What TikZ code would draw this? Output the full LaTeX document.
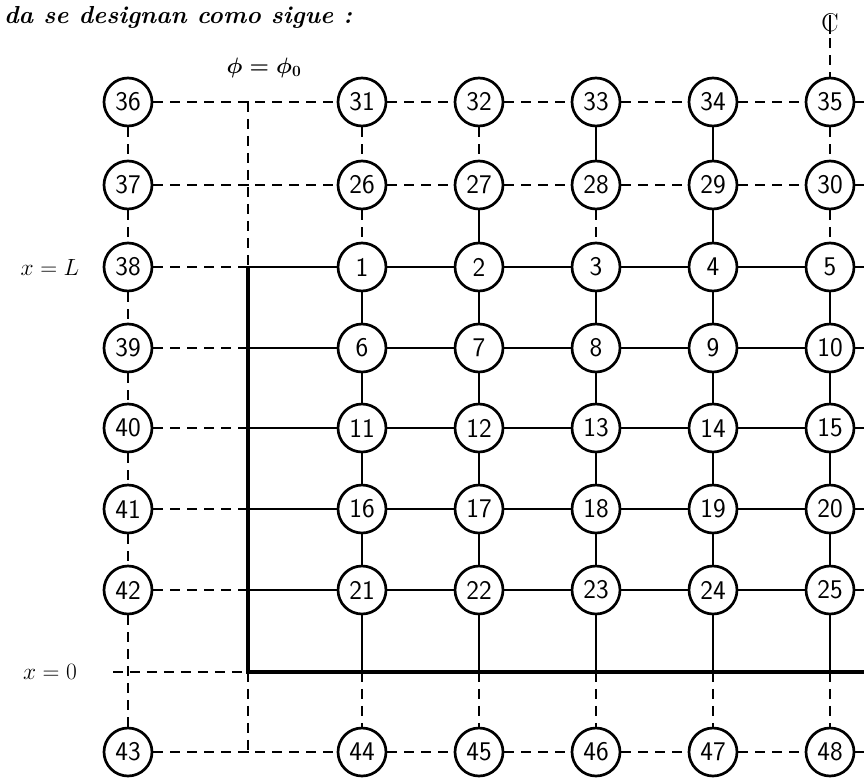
\RequirePackage{fix-cm}
\documentclass[tikz,border=0pt]{standalone}
\usepackage{amsmath, amssymb}
\usepackage{fontspec}
\usepackage{tikz}

\begin{document}
\begin{tikzpicture}[x=0.03cm, y=-0.03cm,
    nd/.style={circle, draw, line width=2.3pt, minimum size=1.44cm, inner sep=0pt,
      font=\fontsize{23}{24}\selectfont\sffamily},
    ln/.style={line width=1.9pt},
    dl/.style={line width=1.9pt, dash pattern=on 8.5pt off 6pt},
    wall/.style={line width=4.2pt}]
  \useasboundingbox (0,0) rectangle (864,783);

  % nodos interiores
  \foreach \r/\y in {0/267,1/348,2/428,3/509,4/590}
    \foreach \c/\x in {0/362,1/479,2/596,3/713,4/830}{
      \pgfmathtruncatemacro\k{5*\r+\c+1}
      \node[nd] (n\k) at (\x,\y) {\k};
    }
  % nodos ficticios
  \foreach \c/\x in {0/362,1/479,2/596,3/713,4/830}{
    \pgfmathtruncatemacro\a{26+\c}
    \pgfmathtruncatemacro\b{31+\c}
    \pgfmathtruncatemacro\d{44+\c}
    \node[nd] (n\a) at (\x,185) {\a};
    \node[nd] (n\b) at (\x,102) {\b};
    \node[nd] (n\d) at (\x,752) {\d};
    \coordinate (z\c) at (\x,672);
  }
  \foreach \k/\y in {36/102,37/185,38/267,39/348,40/428,41/509,42/590,43/752}{
    \node[nd] (n\k) at (128,\y) {\k};
    \coordinate (w\k) at (248,\y);
  }
  \foreach \k/\y in {35/102,30/185,5/267,10/348,15/428,20/509,25/590,48/752}
    \coordinate (r\k) at (864,\y);
  \coordinate (wz) at (248,672);
  \coordinate (zl) at (113,672);
  \coordinate (zr) at (864,672);

  % textos
  \node[anchor=west] (title) at (0,17) {\fontsize{21}{23}\selectfont\bfseries\itshape da se designan como sigue :};
  \node (phi) at (264,68) {\fontsize{19}{20}\selectfont$\boldsymbol{\phi=\phi_0}$};
  \node (xL) at (50,267) {\fontsize{20}{22}\selectfont$x=L$};
  \node (x0) at (50,672) {\fontsize{20}{22}\selectfont$x=0$};
  \node (cl) at (830,24) {\fontsize{22}{22}\selectfont\makebox[0pt]{C}\makebox[0pt]{\raisebox{-2pt}{\rule{1.6pt}{16pt}}}};

  % filas
  \draw[dl] (n36) -- (w36) -- (n31) -- (n32) -- (n33) -- (n34) -- (n35) -- (r35);
  \draw[dl] (n37) -- (w37) -- (n26) -- (n27) -- (n28) -- (n29) -- (n30) -- (r30);
  \draw[dl] (n43) -- (w43) -- (n44) -- (n45) -- (n46) -- (n47) -- (n48) -- (r48);
  \foreach \k/\a in {38/1,39/6,40/11,41/16,42/21}{
    \draw[dl] (n\k) -- (w\k);
    \draw[ln] (w\k) -- (n\a);
  }
  \foreach \a in {1,...,24}{
    \pgfmathtruncatemacro\b{\a+1}
    \pgfmathtruncatemacro\m{mod(\a,5)}
    \ifnum\m>0 \draw[ln] (n\a) -- (n\b); \fi
  }
  \foreach \k in {5,10,15,20,25} \draw[ln] (n\k) -- (r\k);

  % columnas
  \draw[dl] (n36) -- (n37) -- (n38) -- (n39) -- (n40) -- (n41) -- (n42) -- (n43);
  \foreach \a in {1,...,20}{
    \pgfmathtruncatemacro\b{\a+5}
    \draw[ln] (n\a) -- (n\b);
  }
  \foreach \c in {0,...,4}{
    \pgfmathtruncatemacro\a{21+\c}
    \pgfmathtruncatemacro\d{44+\c}
    \draw[ln] (n\a) -- (z\c);
    \draw[dl] (z\c) -- (n\d);
  }
  \draw[dl] (n31) -- (n26) -- (n1);
  \draw[dl] (n32) -- (n27);
  \draw[ln] (n27) -- (n2);
  \draw[ln] (n33) -- (n28);
  \draw[dl] (n28) -- (n3);
  \draw[ln] (n34) -- (n29) -- (n4);
  \draw[dl] (n35) -- (n30) -- (n5);
  \draw[dl] (cl) -- (n35);

  % contorno
  \draw[dl] (w36) -- (w38);
  \draw[dl] (wz) -- (w43);
  \draw[dl] (zl) -- (wz);
  \draw[wall] (w38) -- (wz) -- (zr);
\end{tikzpicture}
\end{document}
